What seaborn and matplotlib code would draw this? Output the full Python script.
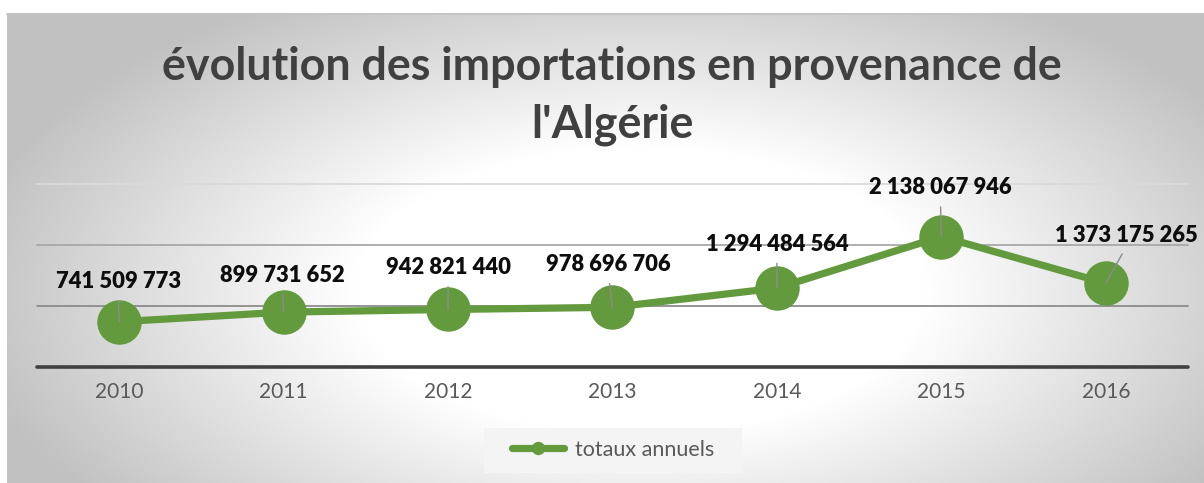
import numpy as np
import matplotlib
matplotlib.use("Agg")
import matplotlib.pyplot as plt
from matplotlib.lines import Line2D
from matplotlib.patches import Rectangle
import seaborn as sns

# ---------------- data ----------------
years = ["2010", "2011", "2012", "2013", "2014", "2015", "2016"]
totals = [741509773, 899731652, 942821440, 978696706, 1294484564, 2138067946, 1373175265]
series_name = "totaux annuels"
title_lines = ["évolution des importations en provenance de", "l'Algérie"]
grid_levels = [1e9, 2e9, 3e9]

# ---------------- style ----------------
sns.set_style("white")
plt.rcParams["font.family"] = ["Lato", "DejaVu Sans"]

W, H = 1204, 483
GREEN = "#629A3D"

fig = plt.figure(figsize=(W / 100, H / 100), dpi=100)
fig.patch.set_facecolor("white")

# background radial gradient panel
bg = fig.add_axes([7 / W, 0, (W - 7) / W, (H - 13) / H], zorder=0)
yy, xx = np.mgrid[13:H, 7:W]
t = np.sqrt(((xx - 640) / 680.0) ** 2 + ((yy - 290) / 340.0) ** 2)
frac = np.clip((t - 0.42) / 0.58, 0, 1)
val = 1 - 0.24 * frac
img = np.dstack([val, val, val])
bg.imshow(img, aspect="auto", interpolation="bilinear")
bg.set_axis_off()
fig.add_artist(Line2D([7 / W, 1], [1 - 13.5 / H] * 2, color="#c4c4c4", lw=1.5, zorder=1))

# main axes
ax = fig.add_axes([37 / W, 1 - 367 / H, 1151 / W, 183 / H], zorder=2)
ax.patch.set_alpha(0)

sns.lineplot(x=years, y=totals, ax=ax, sort=False, color=GREEN, linewidth=5.2,
             marker="o", markersize=32, markeredgewidth=0, label=series_name, zorder=3)

ax.set_xlim(-0.5, len(years) - 0.5)
ax.set_ylim(0, grid_levels[-1])
ax.set_yticks([])
ax.set_xlabel("")
ax.set_ylabel("")
for s in ax.spines.values():
    s.set_visible(False)

grid_colors = ["#8c8c8c", "#a8a8a8", "#dadada"]
for lvl, c in zip(grid_levels, grid_colors):
    ax.axhline(lvl, color=c, lw=1.3, zorder=1, clip_on=False)
ax.axhline(0, color="#404040", lw=2.6, zorder=1.5, clip_on=False)

ax.tick_params(axis="x", length=0, pad=11, labelsize=15, labelcolor="#595959")

# data labels with leader lines (offsets in pixels, up positive)
offsets = [(-1, 40), (-1, 37), (0, 42), (-4, 43), (0, 44), (-1, 49), (21, 48)]
ann = []
for i, (v, (dx, dy)) in enumerate(zip(totals, offsets)):
    lab = f"{v:,}".replace(",", " ")
    a = ax.annotate(lab, xy=(i, v), xytext=(dx, dy), textcoords="offset pixels",
                    ha="center", va="center", fontsize=15, fontweight="heavy",
                    color="#0d0d0d", zorder=5, annotation_clip=False,
                    arrowprops=dict(arrowstyle="-", color="#8c8c8c", lw=1.0,
                                    shrinkA=4, shrinkB=0, relpos=(0.5, 0)))
    ann.append(a)

# title
t1 = fig.text(612 / W, 1 - 80 / H, title_lines[0], ha="center", va="baseline",
              fontsize=31, fontweight="bold", color="#404040")
t2 = fig.text(612 / W, 1 - 137 / H, title_lines[1], ha="center", va="baseline",
              fontsize=31, fontweight="bold", color="#404040")

# legend
fig.add_artist(Rectangle((484 / W, 1 - 473 / H), 258 / W, 45 / H,
                         transform=fig.transFigure, facecolor="#f4f4f4",
                         edgecolor="none", zorder=1))
if ax.legend_:
    ax.legend_.remove()
leg = fig.legend(*ax.get_legend_handles_labels(), loc="center",
                 bbox_to_anchor=(613 / W, 1 - 450 / H), frameon=False,
                 fontsize=15.5, handlelength=2.4, handletextpad=0.5,
                 markerscale=0.3, labelcolor="#595959")

# fit text widths to target pixel widths
fig.canvas.draw()
r = fig.canvas.get_renderer()
w = t1.get_window_extent(r).width
s = t1.get_fontsize() * 900 / w
t1.set_fontsize(s)
t2.set_fontsize(s)
w = ann[0].get_window_extent(r).width
s2 = ann[0].get_fontsize() * 126 / w
for a in ann:
    a.set_fontsize(s2)

fig.savefig("out.png", dpi=100, facecolor="white")
